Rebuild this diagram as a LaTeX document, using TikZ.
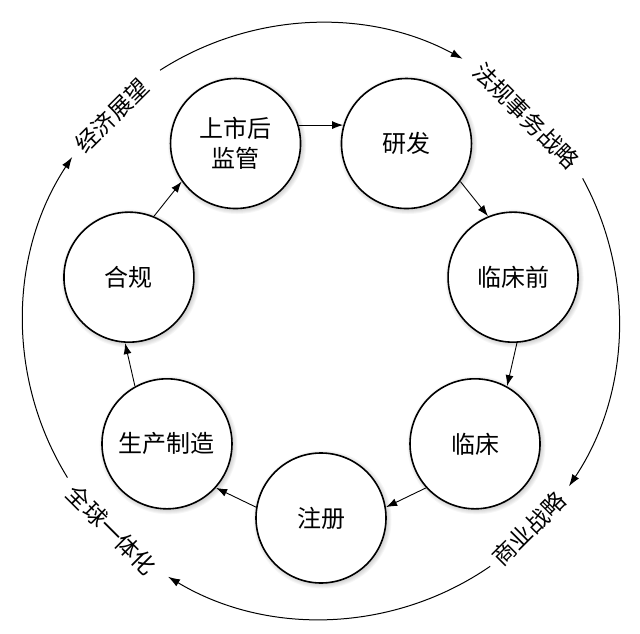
\documentclass[tikz,border=0pt]{standalone}
\usepackage{fontspec}
\setmainfont{Noto Sans CJK SC}
\usetikzlibrary{arrows.meta,calc,backgrounds}
\begin{document}
\begin{tikzpicture}[x=1pt,y=1pt,
  stage/.style={circle, draw, line width=1.6pt, fill=white, minimum size=130pt, inner sep=0pt,
                font=\fontsize{24}{30}\selectfont, align=center},
  arr/.style={-{Latex[length=11pt,width=8pt]}, line width=0.9pt},
  ring/.style={line width=1pt, -{Latex[length=12pt,width=8pt]}},
  lbl/.style={font=\fontsize{23}{26}\selectfont, inner sep=0pt}]
\useasboundingbox (0,0) rectangle (640,633);
\coordinate (O) at (321,312);
% stages
\node[stage] (n1) at ($(O)+(115.714:197)$) {上市后\\监管};
\node[stage] (n2) at ($(O)+(64.286:197)$) {研发};
\node[stage] (n3) at ($(O)+(12.857:197)$) {临床前};
\node[stage] (n4) at ($(O)+(-38.571:197)$) {临床};
\node[stage] (n5) at ($(O)+(-90:197)$) {注册};
\node[stage] (n6) at ($(O)+(-141.429:197)$) {生产制造};
\node[stage] (n7) at ($(O)+(167.143:197)$) {合规};
% soft shadows
\begin{scope}[on background layer]
\foreach \i in {1,...,7}{
  \foreach \k in {1,...,5}{
    \fill[black,opacity=0.035] ($(n\i)+(1.5,-1.5)$) circle ({64+\k});
  }
}
\end{scope}
% inner arrows
\foreach \i/\j in {1/2,2/3,3/4,4/5,5/6,6/7,7/1}{
  \pgfmathsetmacro{\ta}{115.714-51.4286*(\i-1)-99.5}
  \pgfmathsetmacro{\tb}{115.714-51.4286*(\j-1)+99.5}
  \draw[arr] ($(n\i)+(\ta:66)$) -- ($(n\j)+(\tb:66)$);
}
% outer labels
\node[lbl, rotate=45]  (l1) at ($(O)+(135.5:293)$) {经济展望};
\node[lbl, rotate=-45] (l2) at ($(O)+(45:290)$) {法规事务战略};
\node[lbl, rotate=45]  (l3) at ($(O)+(-45:294)$) {商业战略};
\node[lbl, rotate=-45] (l4) at ($(O)+(-135:296)$) {全球一体化};
% outer arcs
\coordinate (a1) at ($(O)+(122.7:298)$);
\coordinate (a2) at ($(O)+(28.6:298)$);
\coordinate (a3) at ($(O)+(-55.4:298)$);
\coordinate (a4) at ($(O)+(211.7:298)$);
\draw[ring] (a1) arc[start angle=122.7, end angle=61.6, radius=298];
\draw[ring] (a2) arc[start angle=28.6, end angle=-33.7, radius=298];
\draw[ring] (a3) arc[start angle=-55.4, end angle=-120.9, radius=298];
\draw[ring] (a4) arc[start angle=211.7, end angle=146.6, radius=298];
\end{tikzpicture}
\end{document}
